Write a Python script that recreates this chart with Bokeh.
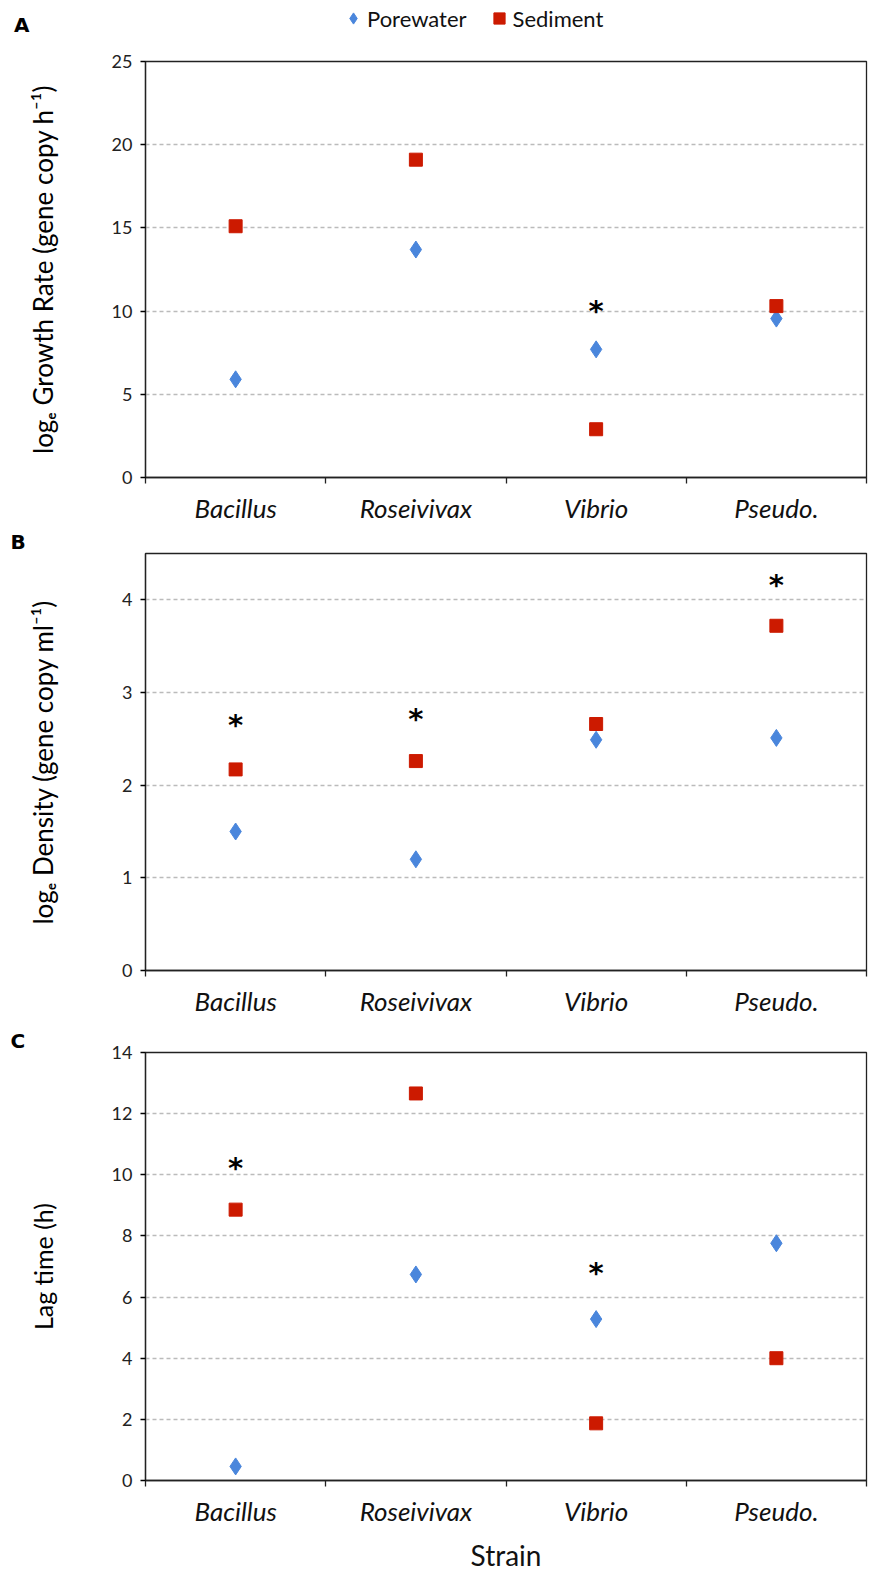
import math
from bokeh.plotting import figure
from bokeh.models import Range1d, FixedTicker
from bokeh.layouts import column
from bokeh.embed import file_html
from bokeh.resources import INLINE
from bokeh.core.properties import value

# ---------------- data ----------------
categories = ["Bacillus", "Roseivivax", "Vibrio", "Pseudo."]
series_names = ["Porewater", "Sediment"]

growth_porewater = [5.9, 13.7, 7.7, 9.55]
growth_sediment = [15.1, 19.1, 2.9, 10.3]
growth_signif = [None, None, 10.4, None]
growth_ticks = [0, 5, 10, 15, 20, 25]

density_porewater = [1.5, 1.2, 2.49, 2.51]
density_sediment = [2.17, 2.26, 2.66, 3.72]
density_signif = [2.72, 2.79, None, 4.24]
density_ticks = [0, 1, 2, 3, 4]

lag_porewater = [0.46, 6.74, 5.28, 7.76]
lag_sediment = [8.86, 12.66, 1.87, 4.0]
lag_signif = [10.44, None, 7.02, None]
lag_ticks = [0, 2, 4, 6, 8, 10, 12, 14]

panel_letters = ["A", "B", "C"]
y_titles = ["log\u2091 Growth Rate (gene copy h\u207b\u00b9)",
            "log\u2091 Density (gene copy ml\u207b\u00b9)",
            "Lag time (h)"]
x_title = "Strain"

# ---------------- style / layout ----------------
BLUE = "#4A86DC"
RED = "#CC1A00"
W = 883
LEFT = 145
RIGHT = 17
FW = W - LEFT - RIGHT
FONT = "Lato"
LETTER_FONT = "DejaVu Sans"
XS = [i + 0.5 for i in range(len(categories))]


def style_letter(p):
    p.title.align = "left"
    p.title.offset = -(LEFT - 10)
    p.title.standoff = 0
    p.title.text_font = LETTER_FONT
    p.title.text_font_style = "bold"
    p.title.text_font_size = "20px"
    p.title.text_color = "black"


def build(ymax, ticks, pore, sed, signif, letter, title, title_size, btop, fh, bbot,
          title_standoff, last=False):
    n = len(categories)
    p = figure(frame_width=FW, frame_height=fh,
               x_range=Range1d(0, n), y_range=Range1d(0, ymax),
               min_border_left=LEFT, min_border_right=RIGHT,
               min_border_top=btop, min_border_bottom=bbot,
               output_backend="svg", toolbar_location=None,
               title=letter)
    if letter:
        style_letter(p)
    p.outline_line_color = "#222222"
    p.outline_line_width = 1.3

    # y axis
    p.yaxis.ticker = FixedTicker(ticks=ticks)
    p.yaxis.minor_tick_line_color = None
    p.yaxis.major_tick_out = 5
    p.yaxis.major_tick_in = 0
    p.yaxis.major_label_standoff = 8
    p.yaxis.axis_line_color = "#222222"
    p.yaxis.axis_line_width = 1.3
    p.yaxis.major_tick_line_width = 1.3
    p.yaxis.major_label_text_font = FONT
    p.yaxis.major_label_text_font_size = "18px"
    p.yaxis.major_label_text_color = "#222222"
    p.yaxis.axis_label = title
    p.yaxis.axis_label_text_font = FONT
    p.yaxis.axis_label_text_font_style = "normal"
    p.yaxis.axis_label_text_font_size = title_size
    p.yaxis.axis_label_text_color = "black"
    p.yaxis.axis_label_standoff = title_standoff

    # x axis: labels at category centres, tick marks at category boundaries
    p.xaxis.ticker = FixedTicker(ticks=XS, minor_ticks=list(range(n + 1)))
    p.xaxis.major_label_overrides = {x: c for x, c in zip(XS, categories)}
    p.xaxis.major_tick_out = 0
    p.xaxis.major_tick_in = 0
    p.xaxis.minor_tick_out = 6
    p.xaxis.minor_tick_in = 0
    p.xaxis.minor_tick_line_color = "#222222"
    p.xaxis.minor_tick_line_width = 1.3
    p.xaxis.axis_line_color = "#222222"
    p.xaxis.axis_line_width = 1.3
    p.xaxis.major_label_standoff = 8
    p.xaxis.major_label_text_font = FONT
    p.xaxis.major_label_text_font_style = "italic"
    p.xaxis.major_label_text_font_size = "26px"
    p.xaxis.major_label_text_color = "#111111"

    # grid
    p.xgrid.visible = False
    p.ygrid.ticker = FixedTicker(ticks=ticks)
    p.ygrid.grid_line_color = "#BBBBBB"
    p.ygrid.grid_line_dash = "4 3"
    p.ygrid.grid_line_width = 1.3

    p.scatter(XS, pore, marker="diamond", size=17, fill_color=BLUE, line_color=BLUE)
    p.scatter(XS, sed, marker="square", size=13, fill_color=RED, line_color=RED)

    sx = [x for x, v in zip(XS, signif) if v is not None]
    sy = [v for v in signif if v is not None]
    if sx:
        p.text(x=sx, y=sy, text=["*"] * len(sx), text_font=value("DejaVu Sans"),
               text_font_style="bold", text_font_size="29px", text_align="center",
               text_baseline="middle", y_offset=7, text_color="black")

    if last:
        p.xaxis.axis_label = x_title
        p.xaxis.axis_label_text_font = FONT
        p.xaxis.axis_label_text_font_style = "normal"
        p.xaxis.axis_label_text_font_size = "28px"
        p.xaxis.axis_label_standoff = 8
        p.xaxis.axis_label_text_color = "#111111"
    return p


# ---------- top strip: legend + panel letter A ----------
TOP_H = 49
lg_fig = figure(frame_width=FW, frame_height=TOP_H,
                x_range=Range1d(0, FW), y_range=Range1d(0, TOP_H),
                min_border_left=LEFT, min_border_right=RIGHT,
                min_border_top=0, min_border_bottom=0,
                output_backend="svg", toolbar_location=None)
lg_fig.xaxis.visible = False
lg_fig.grid.visible = False
lg_fig.outline_line_color = None
ya = lg_fig.yaxis[0]
ya.ticker = FixedTicker(ticks=[])
ya.axis_line_color = None
ya.major_tick_line_color = None
ya.minor_tick_line_color = None
ya.axis_label = panel_letters[0]
ya.axis_label_orientation = "horizontal"
ya.axis_label_standoff = 116
ya.axis_label_text_font = LETTER_FONT
ya.axis_label_text_font_style = "bold"
ya.axis_label_text_font_size = "20px"
ya.axis_label_text_color = "black"

r_pore = lg_fig.scatter(XS, growth_porewater, marker="diamond", fill_color=BLUE,
                        line_color=BLUE, legend_label=series_names[0])
r_sed = lg_fig.scatter(XS, growth_sediment, marker="square", fill_color=RED,
                       line_color=RED, legend_label=series_names[1])
r_pore.visible = False
r_sed.visible = False
lg = lg_fig.legend[0]
lg.location = (194, 17)
lg.orientation = "horizontal"
lg.border_line_color = None
lg.background_fill_alpha = 0
lg.label_text_font = FONT
lg.label_text_font_size = "22px"
lg.label_text_color = "#111111"
lg.glyph_width = 28
lg.glyph_height = 28
lg.spacing = 18
lg.padding = 4
lg.margin = 0
lg.label_standoff = 0
lg.click_policy = "none"

pA = build(25, growth_ticks, growth_porewater, growth_sediment, growth_signif,
           None, y_titles[0], "26px", 12, 416, 50, 50)
pB = build(4.5, density_ticks, density_porewater, density_sediment, density_signif,
           panel_letters[1], y_titles[1], "26px", 26, 417, 52, 60)
pC = build(14, lag_ticks, lag_porewater, lag_sediment, lag_signif,
           panel_letters[2], y_titles[2], "25px", 30, 428, 96, 51, last=True)

layout = column(lg_fig, pA, pB, pC, spacing=0)
open("out.html", "w").write(file_html(layout, INLINE))
